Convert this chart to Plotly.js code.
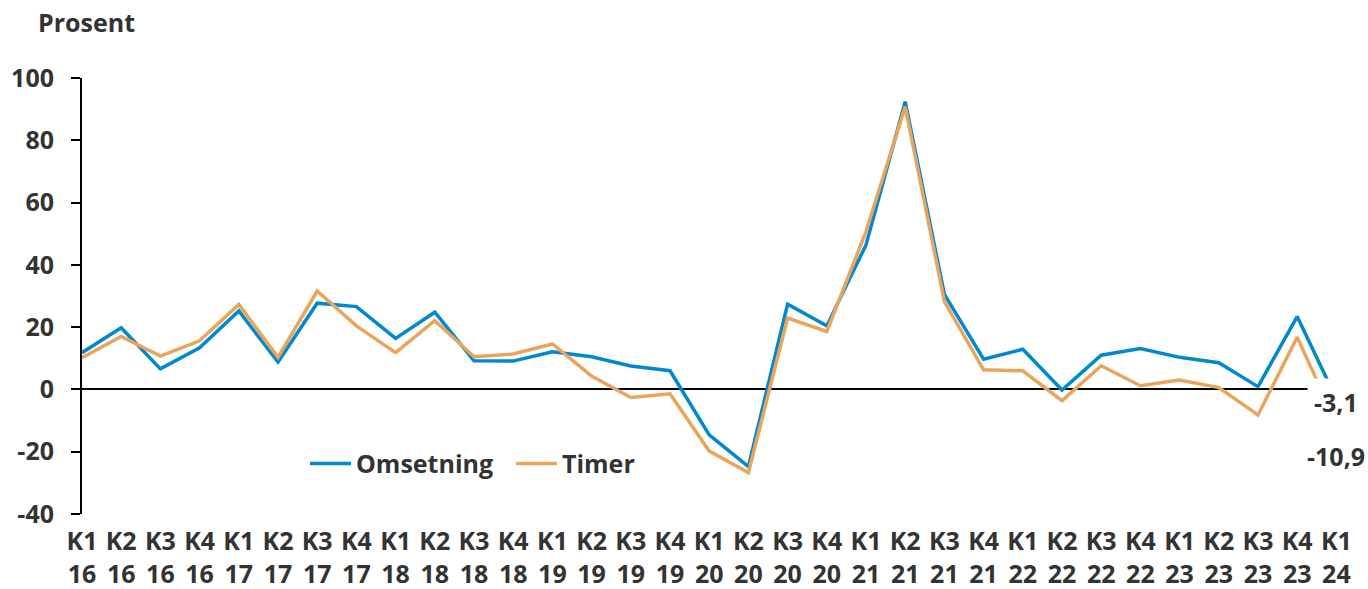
<!DOCTYPE html>
<html>
<head>
<meta charset="utf-8">
<script src="https://cdn.plot.ly/plotly-3.0.1.min.js"></script>
<style>html,body{margin:0;padding:0;background:#fff;}#chart{width:1368px;height:589px;}</style>
</head>
<body>
<div id="chart"></div>
<script>
const quarters = ["K1","K2","K3","K4","K1","K2","K3","K4","K1","K2","K3","K4","K1","K2","K3","K4","K1","K2","K3","K4","K1","K2","K3","K4","K1","K2","K3","K4","K1","K2","K3","K4","K1"];
const years = ["16","16","16","16","17","17","17","17","18","18","18","18","19","19","19","19","20","20","20","20","21","21","21","21","22","22","22","22","23","23","23","23","24"];
const omsetning = [11.8, 19.8, 6.6, 13.4, 25.2, 8.8, 27.7, 26.6, 16.4, 24.8, 9.2, 9.1, 12.1, 10.5, 7.5, 6.0, -14.6, -24.8, 27.4, 20.4, 46.4, 92.4, 30.5, 9.7, 12.9, -0.2, 11.0, 13.1, 10.3, 8.6, 0.9, 23.4, -3.1];
const timer = [10.2, 17.0, 10.7, 15.6, 27.3, 10.3, 31.6, 20.4, 11.8, 22.1, 10.5, 11.4, 14.6, 4.3, -2.6, -1.4, -19.8, -26.7, 22.9, 18.6, 50.7, 90.8, 28.2, 6.3, 6.0, -3.6, 7.6, 1.2, 3.0, 0.6, -8.2, 16.8, -10.9];
const seriesNames = ["Omsetning", "Timer"];
const yTicks = [-40, -20, 0, 20, 40, 60, 80, 100];

const categories = quarters.map((q, i) => q + "<br>" + years[i]);
const fmt = v => String(v).replace(".", ",");

const FONT = "Open Sans, Noto Sans, sans-serif";
const TXT = "#333333";
const BLUE = "#0089CF";
const ORANGE = "#E8A55B";

const traces = [
  {x: categories, y: omsetning, name: seriesNames[0], type: "scatter", mode: "lines",
   line: {color: BLUE, width: 3.5}, hoverinfo: "skip"},
  {x: categories, y: timer, name: seriesNames[1], type: "scatter", mode: "lines",
   line: {color: ORANGE, width: 3.5}, hoverinfo: "skip"}
];

const last = categories.length - 1;
const layout = {
  width: 1368, height: 589,
  margin: {l: 82, r: 12, t: 78, b: 75},
  paper_bgcolor: "#fff", plot_bgcolor: "#fff",
  font: {family: FONT, size: 25, color: TXT, weight: 700},
  showlegend: true,
  legend: {orientation: "h", x: 0.175, y: 0.115, xanchor: "left", yanchor: "middle",
           itemwidth: 41, entrywidth: 150, entrywidthmode: "pixels",
           font: {family: FONT, size: 25, color: TXT, weight: 700}, bgcolor: "rgba(0,0,0,0)"},
  xaxis: {type: "category", range: [0, last + 0.5], showgrid: false, zeroline: false,
          showline: false, ticks: "", tickangle: 0, tickmode: "array",
          tickvals: categories, ticktext: categories, ticklabelstandoff: 10,
          tickfont: {family: FONT, size: 25, color: TXT, weight: 700}, fixedrange: true},
  yaxis: {range: [-40, 100], tickvals: yTicks, ticktext: yTicks.map(String),
          showgrid: false, zeroline: true, zerolinecolor: "#000", zerolinewidth: 2,
          showline: true, linecolor: "#000", linewidth: 2,
          ticks: "outside", ticklen: 9, tickwidth: 2, tickcolor: "#000",
          ticklabelstandoff: 12,
          tickfont: {family: FONT, size: 25, color: TXT, weight: 700}, fixedrange: true},
  annotations: [
    {text: "Prosent", xref: "paper", yref: "paper", x: -46/1274, y: (514-22)/436,
     xanchor: "left", yanchor: "middle", showarrow: false,
     font: {family: FONT, size: 25, color: TXT, weight: 700}},
    {text: fmt(omsetning[last]), x: categories[last], y: omsetning[last], xref: "x", yref: "y",
     showarrow: false, bgcolor: "#fff", borderpad: 6, yshift: -3,
     font: {family: FONT, size: 25, color: TXT, weight: 700}},
    {text: fmt(timer[last]), x: categories[last], y: timer[last], xref: "x", yref: "y",
     showarrow: false, yshift: -33,
     font: {family: FONT, size: 25, color: TXT, weight: 700}}
  ]
};

Plotly.newPlot("chart", traces, layout, {displayModeBar: false, staticPlot: true});
</script>
</body>
</html>
